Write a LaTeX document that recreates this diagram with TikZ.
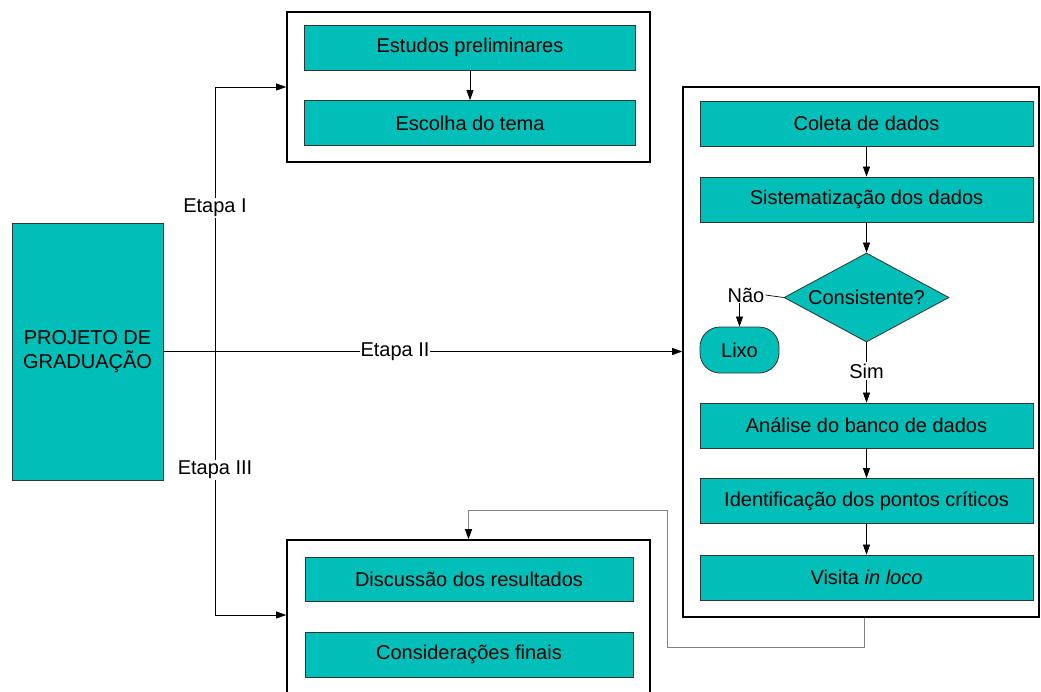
\documentclass[tikz,border=0pt]{standalone}
\usepackage{fontspec}
\setmainfont{Liberation Sans}
\usetikzlibrary{arrows.meta,shapes.geometric}
\definecolor{teal1}{HTML}{00BFB9}
\definecolor{edge}{HTML}{333333}
\begin{document}
\begin{tikzpicture}[x=1pt,y=-1pt,
  font=\fontsize{20}{24}\selectfont,
  tbox/.style={draw=edge,line width=0.8pt,fill=teal1,inner sep=0pt,minimum height=45pt,minimum width=331pt,text=black},
  cont/.style={draw=black,line width=1.6pt,inner sep=0pt},
  conn/.style={draw=black,line width=0.7pt},
  arr/.style={conn,-{Triangle[length=10pt,width=7pt]}},
  fb/.style={draw=gray,line width=0.9pt,-{Triangle[length=10pt,width=7pt,color=black]}},
  lbl/.style={fill=white,inner sep=1pt,text=black}]
\useasboundingbox (0,0) rectangle (1041,691);
\fill[white] (0,0) rectangle (1041,691);
% containers
\node[cont,minimum width=363pt,minimum height=150pt] (topbox) at (468.5,87) {};
\node[cont,minimum width=356pt,minimum height=530pt] (rc) at (861,352) {};
\node[cont,minimum width=363pt,minimum height=170pt] (botbox) at (468.5,625) {};
% left project box
\node[tbox,minimum width=151pt,minimum height=257pt,align=center] (proj) at (87.5,351.5) {PROJETO DE\\GRADUAÇÃO};
% top group
\node[tbox] (estudos) at (470,47.5) {Estudos preliminares};
\node[tbox] (escolha) at (470,123) {Escolha do tema};
\draw[arr] (estudos) -- (escolha);
% right group
\node[tbox,minimum width=333pt] (coleta) at (866.5,123.5) {Coleta de dados};
\node[tbox,minimum width=333pt] (sist) at (866.5,199.5) {Sistematização dos dados};
\node[diamond,draw=edge,line width=0.8pt,fill=teal1,inner sep=0pt,aspect=1.85,minimum width=165pt,minimum height=89pt] (cons) at (866.5,297.5) {Consistente?};
\node[draw=edge,line width=0.8pt,fill=teal1,rounded corners=20pt,minimum width=79pt,minimum height=46pt,inner sep=0pt] (lixo) at (739.5,350) {Lixo};
\node[inner sep=1pt] (nao) at (746,295) {Não};
\node[inner sep=1pt] (sim) at (866.5,371) {Sim};
\node[tbox,minimum width=333pt] (analise) at (866.5,425.5) {Análise do banco de dados};
\node[tbox,minimum width=333pt] (ident) at (866.5,501) {Identificação dos pontos críticos};
\node[tbox,minimum width=333pt] (visita) at (866.5,577.5) {Visita \textit{in loco}};
\draw[arr] (coleta) -- (sist);
\draw[arr] (sist) -- (cons);
\draw[conn] (cons.west) -- (nao.east);
\draw[arr] (nao.south -| lixo.north) -- (lixo.north);
\draw[conn] (cons.south) -- (sim.north);
\draw[arr] (sim.south) -- (analise.north);
\draw[arr] (analise) -- (ident);
\draw[arr] (ident) -- (visita);
% bottom group
\node[tbox,minimum width=328pt,minimum height=44pt] (disc) at (469,579) {Discussão dos resultados};
\node[tbox,minimum width=328pt] (consid) at (469,654.5) {Considerações finais};
% feedback
\coordinate (f1) at (864,647);
\coordinate (f2) at (667,647);
\coordinate (f3) at (667,510);
\coordinate (f4) at (468.5,510);
\draw[fb] (rc.south -| f1) -- (f1) -- (f2) -- (f3) -- (f4) -- (botbox.north);
% stage connectors
\coordinate (vt) at (215,87);
\coordinate (vb) at (215,615);
\draw[conn] (vt) -- (vb);
\draw[arr] (vt) -- (topbox.west);
\draw[arr] (vb) -- (vb -| botbox.west);
\draw[arr] (proj.east) -- (proj.east -| rc.west);
\node[lbl] (e1) at (215,208) {Etapa I};
\node[lbl] (e3) at (215,470) {Etapa III};
\node[lbl] (e2) at (395,351.5) {Etapa II};
\end{tikzpicture}
\end{document}
